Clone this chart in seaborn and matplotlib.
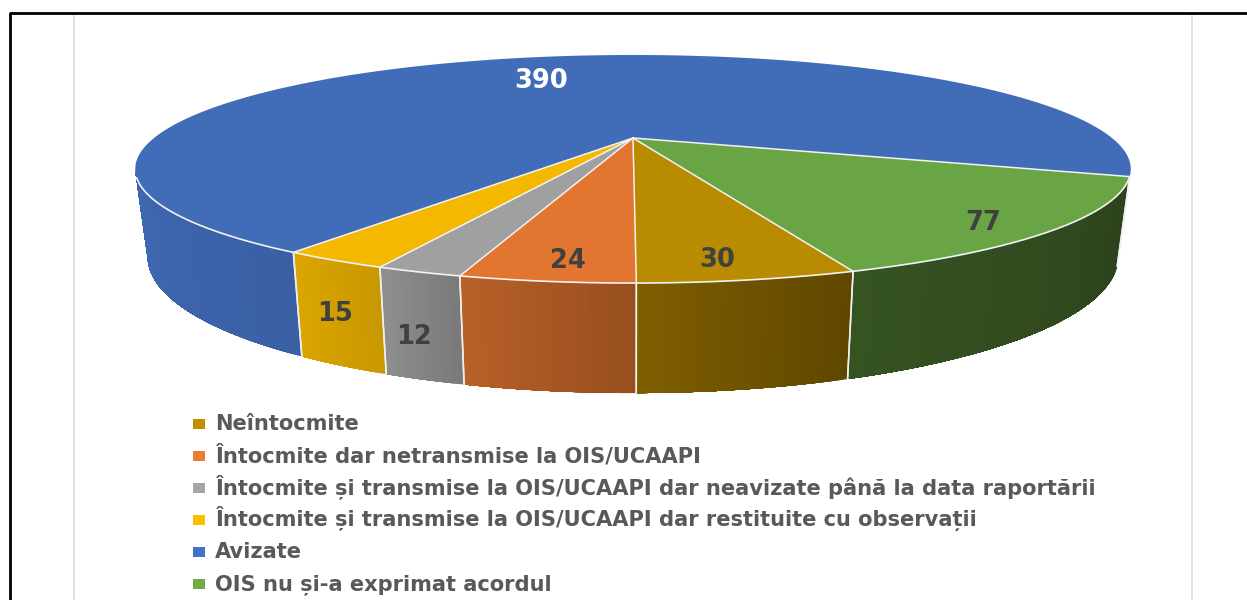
import numpy as np
import matplotlib
matplotlib.use("Agg")
import matplotlib.pyplot as plt
from matplotlib.patches import Rectangle
import seaborn as sns

categories = [
    "Neîntocmite",
    "Întocmite dar netransmise la OIS/UCAAPI",
    "Întocmite și transmise la OIS/UCAAPI dar neavizate până la data raportării",
    "Întocmite și transmise la OIS/UCAAPI dar restituite cu observații",
    "Avizate",
    "OIS nu și-a exprimat acordul",
]
values = [30, 24, 12, 15, 390, 77]

top_colors = ["#b88b00", "#e2752f", "#a0a0a0", "#f4b800", "#416db8", "#6aa545"]
legend_colors = ["#bf9000", "#ed7d31", "#a5a5a5", "#ffc000", "#4472c4", "#70ad47"]
# wall shading, right end then left end of each slice
wall_colors = [
    ("#5f4700", "#7f5e00"),
    ("#984e1e", "#b86028"),
    ("#7a7a7a", "#8e8e8e"),
    ("#c99800", "#daa500"),
    ("#3a5fa5", "#3f69b2"),
    ("#2b411b", "#365322"),
]
label_xy = [(717, 260), (568, 261), (414, 337), (335, 314), (541, 81), (983, 223)]
label_colors = ["#404040"] * 4 + ["white", "#404040"]
legend_rows = [424, 456, 488, 520, 552, 584]

# perspective of the disc, top and bottom plane
CX = 633
TOP = dict(y0=138, a=479, b=105.6, k=0.272)
BOT = dict(y0=220, a=467, b=126, k=0.272)
START = 70


def project(theta, p):
    t = np.radians(theta)
    d = 1 - p["k"] * np.sin(t)
    return CX + p["a"] * np.cos(t) / d, p["y0"] + p["b"] * np.sin(t) / d


sns.set_theme(style="white")
plt.rcParams["font.family"] = ["DejaVu Sans"]

fig = plt.figure(figsize=(12.47, 6), dpi=100)
ax = fig.add_axes([0, 0, 1, 1])
ax.set_xlim(0, 1247)
ax.set_ylim(600, 0)
ax.axis("off")

# frame of the pasted picture
ax.plot([74, 74], [14, 600], color="#dedede", lw=1.2, zorder=1)
ax.plot([1192, 1192], [14, 600], color="#dedede", lw=1.2, zorder=1)
ax.plot([10, 10, 1247], [600, 13, 13], color="black", lw=2, zorder=1.5)

edges = START + np.cumsum([0] + values) / sum(values) * 360

# side walls, each strip runs to the end of the slice so no seams show
for i in range(len(values)):
    for shift in (0, -360):
        t0 = max(edges[i] + shift, 19.4)
        t1 = min(edges[i + 1] + shift, 163)
        if t1 <= t0:
            continue
        n = max(int((t1 - t0) * 2), 2)
        steps = np.linspace(t0, t1, n + 1)
        pal = sns.blend_palette(wall_colors[i], n)
        for j in range(n):
            th = np.linspace(steps[j], t1, 40)
            xt, yt = project(th, TOP)
            xb, yb = project(th, BOT)
            ax.fill(np.r_[xt, xb[::-1]], np.r_[yt, yb[::-1]], facecolor=pal[j], edgecolor="none", zorder=2)
        # white seam at slice borders
        for t in (t0, t1):
            if t in (19.4, 163):
                continue
            xt, yt = project(t, TOP)
            xb, yb = project(t, BOT)
            ax.plot([xt, xb], [yt, yb], color="#f0f0f0", lw=1.1, zorder=3)

# top face
for i in range(len(values)):
    th = np.linspace(edges[i], edges[i + 1], 300)
    x, y = project(th, TOP)
    ax.fill(np.r_[CX, x], np.r_[TOP["y0"], y], facecolor=top_colors[i], edgecolor="none", zorder=4)

# white borders on top of the fill
for t in edges[:-1]:
    x, y = project(t, TOP)
    ax.plot([CX, x], [TOP["y0"], y], color="#f2f2f2", lw=1.1, zorder=5)
th = np.linspace(19.4, 160, 400)
x, y = project(th, TOP)
ax.plot(x, y, color="#f2f2f2", lw=1.2, zorder=5)

for v, (lx, ly), c in zip(values, label_xy, label_colors):
    ax.text(lx, ly, str(v), color=c, fontsize=18.5, fontweight="bold", ha="center", va="center", zorder=6)

# legend rows are placed by hand, Î makes a real legend space them unevenly
for name, c, ry in zip(categories, legend_colors, legend_rows):
    ax.add_patch(Rectangle((193, ry - 5), 12, 10, facecolor=c, edgecolor="none", zorder=6))
    ax.text(215, ry + 6, name, color="#595959", fontsize=15.1, fontweight="bold", ha="left", va="baseline", zorder=6)

fig.savefig("out.png", dpi=100)
